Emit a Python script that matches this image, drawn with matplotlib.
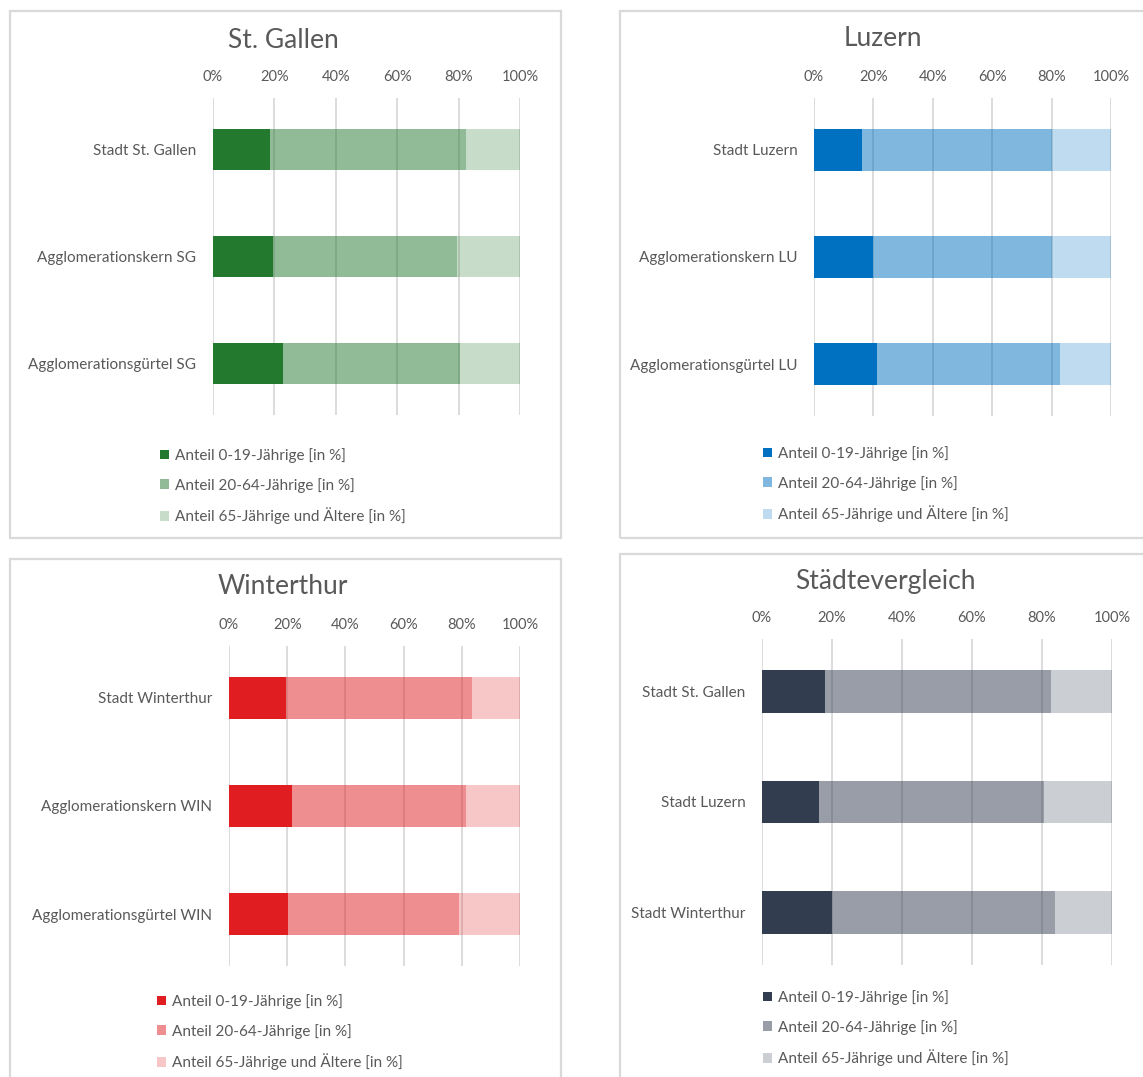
import matplotlib
matplotlib.use("Agg")
import matplotlib.pyplot as plt
from matplotlib.patches import Rectangle, Patch
import numpy as np

plt.rcParams['font.family'] = ['Lato', 'DejaVu Sans']

W, H = 1143, 1077

# --- data (shares in %) ---
series_labels = ["Anteil 0-19-Jährige [in %]",
                 "Anteil 20-64-Jährige [in %]",
                 "Anteil 65-Jährige und Ältere [in %]"]

sg_cats = ["Stadt St. Gallen", "Agglomerationskern SG", "Agglomerationsgürtel SG"]
sg_young = [18.5, 19.5, 22.8]
sg_mid = [64.0, 60.0, 57.7]
sg_old = [17.5, 20.5, 19.5]

lu_cats = ["Stadt Luzern", "Agglomerationskern LU", "Agglomerationsgürtel LU"]
lu_young = [16.2, 19.9, 21.2]
lu_mid = [63.9, 60.2, 61.6]
lu_old = [19.9, 19.9, 17.2]

win_cats = ["Stadt Winterthur", "Agglomerationskern WIN", "Agglomerationsgürtel WIN"]
win_young = [19.6, 21.6, 20.3]
win_mid = [63.9, 59.8, 58.7]
win_old = [16.5, 18.6, 21.0]

cmp_cats = ["Stadt St. Gallen", "Stadt Luzern", "Stadt Winterthur"]
cmp_young = [18.0, 16.3, 20.0]
cmp_mid = [64.6, 64.3, 63.7]
cmp_old = [17.4, 19.4, 16.3]

ticks = [0, 20, 40, 60, 80, 100]
tick_labels = ["0%", "20%", "40%", "60%", "80%", "100%"]

TXT = "#595959"
GRID = "#D9D9D9"

fig = plt.figure(figsize=(W / 100, H / 100), dpi=100)


def frame(x0, y0, x1, y1):
    fig.patches.append(Rectangle((x0 / W, 1 - y1 / H), (x1 - x0) / W, (y1 - y0) / H,
                                 transform=fig.transFigure, fill=False,
                                 edgecolor=GRID, lw=1.6))


def panel(box, title, title_xy, cats, young, mid, old, color, leg_xy):
    x0, y0, x1, y1 = box
    ax = fig.add_axes([x0 / W, 1 - y1 / H, (x1 - x0) / W, (y1 - y0) / H])
    y = np.arange(len(cats))
    young = np.array(young); mid = np.array(mid); old = np.array(old)
    tot = young + mid + old
    a = young / tot * 100
    b = mid / tot * 100
    c = old / tot * 100
    h = 0.39
    ax.barh(y, a, height=h, color=color, label=series_labels[0], zorder=2)
    ax.barh(y, b, left=a, height=h, color=color, alpha=0.5, lw=0,
            label=series_labels[1], zorder=2)
    ax.barh(y, c, left=a + b, height=h, color=color, alpha=0.25, lw=0,
            label=series_labels[2], zorder=2)
    ax.set_xlim(0, 100)
    ax.set_ylim(2.48, -0.48)
    ax.set_yticks(y)
    ax.set_yticklabels(cats)
    ax.set_xticks(ticks)
    ax.set_xticklabels(tick_labels)
    ax.xaxis.tick_top()
    ax.tick_params(axis='x', length=0, pad=10, labelsize=10.5, colors=TXT)
    ax.tick_params(axis='y', length=0, pad=12, labelsize=11, colors=TXT)
    ax.grid(axis='x', color=GRID, lw=1.3, zorder=0)
    ax.set_axisbelow(True)
    for s in ax.spines.values():
        s.set_visible(False)
    fig.text(title_xy[0] / W, 1 - title_xy[1] / H, title, ha='center', va='center',
             fontsize=19, color=TXT)
    handles = [Patch(facecolor=color, alpha=al, lw=0) for al in (1, 0.5, 0.25)]
    fig.legend(handles, series_labels, loc='upper left',
               bbox_to_anchor=(leg_xy[0] / W, 1 - leg_xy[1] / H),
               frameon=False, fontsize=11, labelcolor=TXT,
               handlelength=0.6, handleheight=0.6, handletextpad=0.35,
               labelspacing=0.97, borderaxespad=0, borderpad=0)
    return ax


frame(10, 11, 561, 538)
frame(620, 11, 1160, 538)
frame(10, 559, 561, 1100)
frame(620, 554, 1160, 1100)

panel((213, 98, 520, 415), "St. Gallen", (283, 40), sg_cats, sg_young, sg_mid, sg_old,
      "#23792E", (160, 448))
panel((814, 98, 1111, 416), "Luzern", (883, 38), lu_cats, lu_young, lu_mid, lu_old,
      "#0070C0", (763, 446))
panel((229, 646, 520, 966), "Winterthur", (283, 586), win_cats, win_young, win_mid, win_old,
      "#E01E22", (157, 994))
panel((762, 639, 1112, 965), "Städtevergleich", (885, 582), cmp_cats, cmp_young, cmp_mid, cmp_old,
      "#333D50", (763, 990))

fig.savefig("out.png", dpi=100, facecolor="white")
